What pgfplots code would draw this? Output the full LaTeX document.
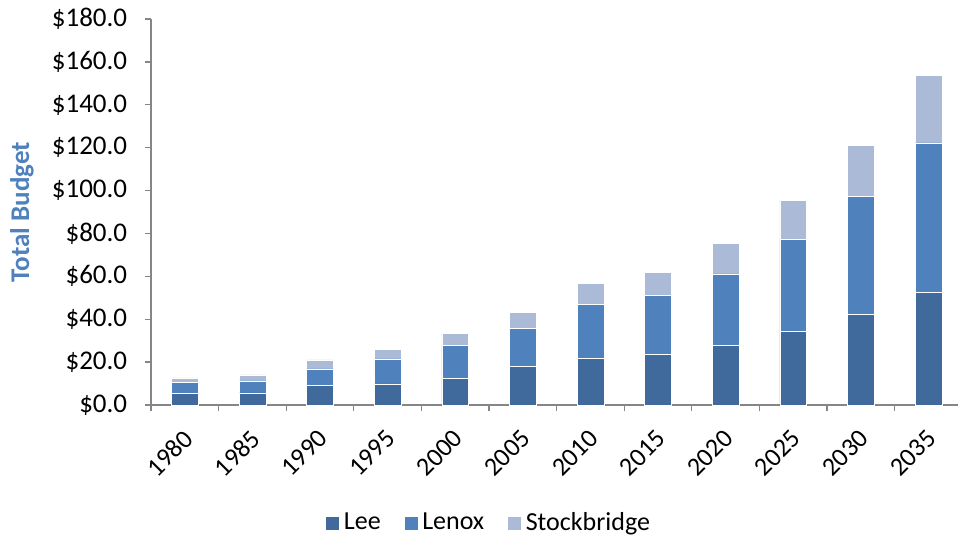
\documentclass[border=0pt]{standalone}
\usepackage{fontspec}
\setmainfont{Carlito}
\usepackage{pgfplots}
\usepackage{pgfplotstable}
\pgfplotsset{compat=1.18}
\definecolor{cLee}{HTML}{406A9B}
\definecolor{cLenox}{HTML}{4F81BD}
\definecolor{cStock}{HTML}{AABAD7}
\definecolor{axisgray}{HTML}{868686}
\pgfplotstableread{
x lee lenox stock
0 5.4 5.2 2.1
1 5.7 5.6 2.7
2 9.0 7.8 4.2
3 9.8 11.7 4.3
4 12.4 15.3 5.7
5 18.0 17.6 7.6
6 21.6 25.2 9.8
7 23.6 27.4 10.9
8 27.7 33.5 14.3
9 34.2 42.9 18.3
10 42.3 54.9 23.7
11 52.6 69.6 31.4
}\data
\begin{document}
\fontsize{26bp}{30bp}\selectfont
\begin{tikzpicture}
\useasboundingbox (-151bp,-132bp) rectangle (808bp,405bp);
\begin{axis}[
  at={(0,0)}, anchor=south west,
  width=806.5bp, height=386bp, scale only axis,
  xmin=-0.5, xmax=11.43, ymin=0, ymax=180,
  axis lines*=left,
  axis line style={draw=axisgray, line width=1.3bp},
  ybar stacked, bar width=26.7bp,
  xtick={-0.5,0.5,1.5,2.5,3.5,4.5,5.5,6.5,7.5,8.5,9.5,10.5},
  xticklabels={},
  extra x ticks={0,1,2,3,4,5,6,7,8,9,10,11},
  extra x tick labels={1980,1985,1990,1995,2000,2005,2010,2015,2020,2025,2030,2035},
  extra x tick style={major tick length=0pt, tick label style={xshift=-3bp, yshift=-23bp, rotate=45, anchor=north east, inner sep=0pt, font=\fontsize{26bp}{30bp}\selectfont}},
  ytick={0,20,40,60,80,100,120,140,160,180},
  yticklabels={\$0.0,\$20.0,\$40.0,\$60.0,\$80.0,\$100.0,\$120.0,\$140.0,\$160.0,\$180.0},
  tick align=outside, major tick length=6bp,
  tick style={draw=axisgray, line width=1.3bp},
  tick label style={font=\fontsize{26bp}{30bp}\selectfont},
  y tick label style={xshift=-9bp, font=\fontsize{27bp}{31bp}\selectfont},
  ylabel={Total Budget},
  ylabel style={at={(axis description cs:0,0.5)}, yshift=129bp, anchor=center, font=\fontsize{27bp}{31bp}\selectfont\bfseries, color=cLenox},
  legend columns=3,
  legend style={draw=none, fill=none, at={(0.42,-0.306)}, anchor=center, font=\fontsize{26bp}{30bp}\selectfont,
    nodes={inner xsep=4bp},
    /tikz/every even column/.append style={column sep=19bp}},
  legend image code/.code={\fill[#1] (0bp,-7bp) rectangle (14bp,7bp);},
]
\addplot[fill=cLee, draw=white, line width=0.5bp] table[x=x, y=lee] {\data};
\addlegendentry{Lee}
\addplot[fill=cLenox, draw=white, line width=0.5bp] table[x=x, y=lenox] {\data};
\addlegendentry{Lenox}
\addplot[fill=cStock, draw=white, line width=0.5bp] table[x=x, y=stock] {\data};
\addlegendentry{Stockbridge}
\end{axis}
\end{tikzpicture}
\end{document}
